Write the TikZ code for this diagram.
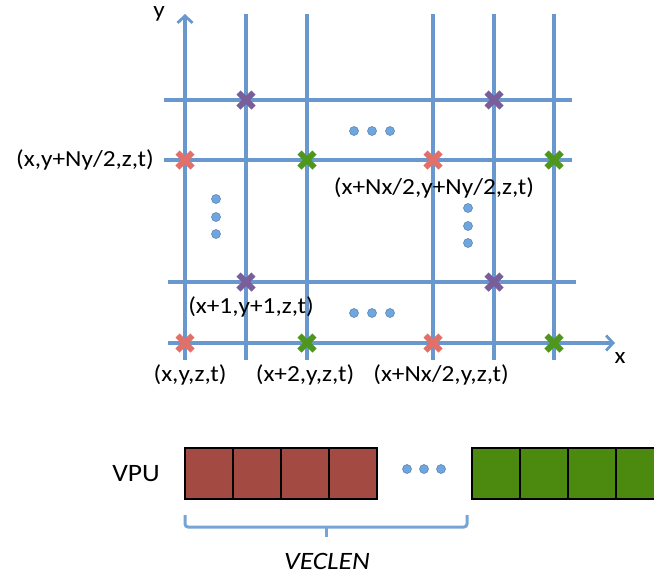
\documentclass[tikz,border=0pt]{standalone}
\usepackage{fontspec}
\setmainfont{Carlito}
\usetikzlibrary{arrows.meta}
\definecolor{gridblue}{RGB}{104,152,206}
\definecolor{braceblue}{RGB}{118,164,214}
\definecolor{crossred}{RGB}{226,112,104}
\definecolor{crosspurple}{RGB}{122,94,156}
\definecolor{crossgreen}{RGB}{78,150,28}
\definecolor{boxred}{RGB}{163,74,67}
\definecolor{boxgreen}{RGB}{75,138,14}
\definecolor{dotblue}{RGB}{112,166,224}
\newcommand\wide[1]{\scalebox{1.1}[1]{#1}}
\newcommand\gridcross[3]{\draw[line width=6pt,#3,shift={(#1,#2)}] (-7.5,-7.5) -- (7.5,7.5) (-7.5,7.5) -- (7.5,-7.5);}
\begin{document}
\begin{tikzpicture}[x=1pt,y=-1pt,
  gridline/.style={gridblue,line width=3.2pt},
  axistip/.style={-{Straight Barb[length=7pt,width=15pt,line width=2.8pt]}},
  lbl/.style={font=\fontsize{23}{26}\selectfont, inner sep=0pt},
  big/.style={font=\fontsize{25}{29}\selectfont, inner sep=0pt},
  dot/.style={circle, fill=dotblue, draw=dotblue!75!black, line width=0.5pt, minimum size=9pt, inner sep=0pt},
  redcell/.style={rectangle, draw=black, fill=boxred, line width=1.4pt, minimum width=48pt, minimum height=51pt, inner sep=0pt},
  greencell/.style={rectangle, draw=black, fill=boxgreen, line width=1.4pt, minimum width=48pt, minimum height=51pt, inner sep=0pt}]
\useasboundingbox (0,0) rectangle (654,576);
% grid
\foreach \x in {246,307,433,494,554} \draw[gridline] (\x,14) -- (\x,360);
\foreach \y in {100,160} \draw[gridline] (164,\y) -- (572,\y);
\draw[gridline] (168,282) -- (576,282);
\draw[gridline,axistip] (185,360) -- (185,14);
\draw[gridline,axistip] (168,343) -- (615,343);
\node[lbl] (ylab) at (159,14) {\wide{y}};
\node[lbl] (xlab) at (620,358) {\wide{x}};
% crosses
\gridcross{246}{100}{crosspurple}
\gridcross{494}{100}{crosspurple}
\gridcross{246}{282}{crosspurple}
\gridcross{494}{282}{crosspurple}
\gridcross{185}{160}{crossred}
\gridcross{433}{160}{crossred}
\gridcross{185}{343}{crossred}
\gridcross{433}{343}{crossred}
\gridcross{307}{160}{crossgreen}
\gridcross{554}{160}{crossgreen}
\gridcross{307}{343}{crossgreen}
\gridcross{554}{343}{crossgreen}
% dots
\node[dot] (ta) at (354,131) {};
\node[dot] (tb) at (372,131) {};
\node[dot] (tc) at (390,131) {};
\node[dot] (ba) at (354,313) {};
\node[dot] (bb) at (372,313) {};
\node[dot] (bc) at (390,313) {};
\node[dot] (la) at (216,199) {};
\node[dot] (lb) at (216,217) {};
\node[dot] (lc) at (216,234) {};
\node[dot] (ra) at (468,208) {};
\node[dot] (rb) at (468,226) {};
\node[dot] (rc) at (468,243) {};
% labels
\node[lbl,anchor=east] (l1) at (154,160) {\wide{(x,y+Ny/2,z,t)}};
\node[lbl] (l2) at (434,188) {\wide{(x+Nx/2,y+Ny/2,z,t)}};
\node[lbl] (l3) at (251,307) {\wide{(x+1,y+1,z,t)}};
\node[lbl] (l4) at (190,375) {\wide{(x,y,z,t)}};
\node[lbl] (l5) at (305,375) {\wide{(x+2,y,z,t)}};
\node[lbl] (l6) at (441,375) {\wide{(x+Nx/2,y,z,t)}};
% VPU
\node[big] (vpu) at (136,474) {\wide{VPU}};
\foreach \i in {0,1,2,3} \node[redcell] (r\i) at (209+48*\i,473.5) {};
\foreach \i in {0,1,2,3} \node[greencell] (g\i) at (496+48*\i,473.5) {};
\node[dot] (va) at (407,469) {};
\node[dot] (vb) at (424,469) {};
\node[dot] (vc) at (441,469) {};
% brace
\coordinate (bl) at (185,515);
\coordinate (br) at (467,515);
\coordinate (bm) at (326,527);
\draw[braceblue,line width=3pt,rounded corners=3pt] (bl) -- (185,527) -- (467,527) -- (br);
\draw[braceblue,line width=3pt] (bm) -- (326,537);
\node[big] (veclen) at (327,561) {\wide{\itshape VECLEN}};
\end{tikzpicture}
\end{document}
